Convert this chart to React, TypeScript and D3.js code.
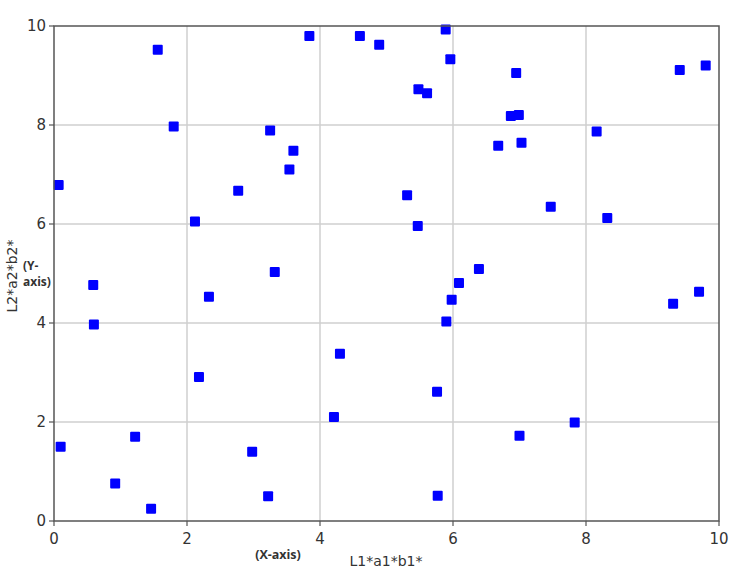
import React from 'react';
import * as d3 from 'd3';

// scatter points
const xValues = [
  0.1, 0.07, 1.56, 1.8, 0.59, 0.6, 1.22, 0.92, 1.46, 2.18,
  2.12, 2.33, 2.77, 2.98, 3.22, 3.25, 3.32, 3.54, 3.6, 3.84,
  4.6, 4.89, 5.89, 5.96, 5.48, 5.61, 6.68, 5.31, 5.47, 4.3,
  4.21, 5.76, 5.77, 5.9, 5.98, 6.09, 6.39, 7.0, 7.83, 7.47,
  8.32, 8.16, 7.03, 6.95, 6.87, 6.99, 9.41, 9.8, 9.31, 9.7,
];
const yValues = [
  1.5, 6.79, 9.52, 7.97, 4.77, 3.97, 1.7, 0.76, 0.25, 2.91,
  6.05, 4.53, 6.67, 1.4, 0.5, 7.89, 5.03, 7.1, 7.48, 9.8,
  9.8, 9.62, 9.93, 9.33, 8.72, 8.64, 7.58, 6.58, 5.96, 3.38,
  2.1, 2.61, 0.51, 4.03, 4.47, 4.81, 5.09, 1.72, 1.99, 6.35,
  6.12, 7.87, 7.64, 9.05, 8.18, 8.2, 9.11, 9.2, 4.39, 4.63,
];
const xTicks = [0, 2, 4, 6, 8, 10];
const yTicks = [0, 2, 4, 6, 8, 10];

const W = 750;
const H = 570;
const left = 54;
const right = 719;
const top = 26;
const bottom = 521;

const App = () => {
  const x = d3.scaleLinear().domain([0, 10]).range([left, right]);
  const y = d3.scaleLinear().domain([0, 10]).range([bottom, top]);
  const pts = d3.zip(xValues, yValues);
  const sz = 10;
  const tickFont = 'DejaVu Sans, sans-serif';
  const boldFont = 'Open Sans, sans-serif';

  return (
    <svg width={W} height={H} style={{ position: 'absolute', left: 0, top: 0, background: '#fff' }}>
      {/* grid */}
      <g stroke="#cfcfcf" strokeWidth={1.5}>
        {xTicks.slice(1, -1).map(t => (
          <line key={'gx' + t} x1={x(t)} x2={x(t)} y1={top} y2={bottom} />
        ))}
        {yTicks.slice(1, -1).map(t => (
          <line key={'gy' + t} x1={left} x2={right} y1={y(t)} y2={y(t)} />
        ))}
      </g>

      {/* points */}
      <g fill="#0000ff">
        {pts.map((d, i) => (
          <rect key={i} x={x(d[0]) - sz / 2} y={y(d[1]) - sz / 2} width={sz} height={sz} rx={1} />
        ))}
      </g>

      {/* frame */}
      <rect x={left} y={top} width={right - left} height={bottom - top} fill="none" stroke="#555" strokeWidth={1.5} />

      {/* ticks */}
      <g fontFamily={tickFont} fontSize={15} fill="#333">
        {xTicks.map(t => (
          <g key={'tx' + t}>
            <line x1={x(t)} x2={x(t)} y1={bottom} y2={bottom + 5} stroke="#555" strokeWidth={1.2} />
            <text x={x(t)} y={bottom + 23} textAnchor="middle">{t}</text>
          </g>
        ))}
        {yTicks.map(t => (
          <g key={'ty' + t}>
            <line x1={left - 5} x2={left} y1={y(t)} y2={y(t)} stroke="#555" strokeWidth={1.2} />
            <text x={left - 8} y={y(t) + 5} textAnchor="end">{t}</text>
          </g>
        ))}
      </g>

      {/* axis labels */}
      <text x={386} y={566} textAnchor="middle" fontFamily={tickFont} fontSize={14} fill="#333">L1*a1*b1*</text>
      <text x={278} y={559} textAnchor="middle" fontFamily={boldFont} fontWeight="bold" fontSize={12.5} fill="#333">(X-axis)</text>
      <text transform={`translate(17,276) rotate(-90)`} textAnchor="middle" fontFamily={tickFont} fontSize={14} fill="#333">L2*a2*b2*</text>
      <text x={23} y={270} fontFamily={boldFont} fontWeight="bold" fontSize={12} fill="#333">(Y-</text>
      <text x={23} y={286} fontFamily={boldFont} fontWeight="bold" fontSize={12} fill="#333">axis)</text>
    </svg>
  );
};

export default App;
